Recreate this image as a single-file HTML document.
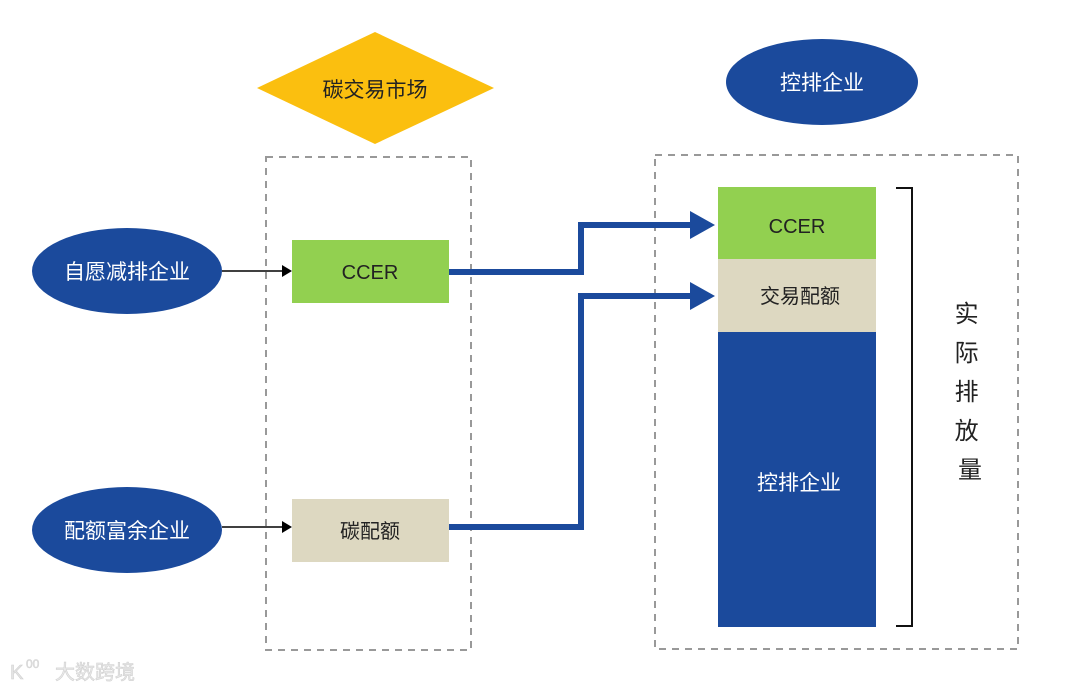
<!DOCTYPE html>
<html><head><meta charset="utf-8"><style>
html,body{margin:0;padding:0;background:#fff;}
svg{display:block;}
text{font-family:"Liberation Sans","Noto Sans CJK SC",sans-serif;}
</style></head><body>
<svg width="1070" height="691" viewBox="0 0 1070 691" xmlns="http://www.w3.org/2000/svg">
<rect width="1070" height="691" fill="#fff"/>
<!-- diamond -->
<polygon points="375,32 494,88 375,144 257,88" fill="#fbbf0f"/>
<text x="375" y="97" font-size="21" text-anchor="middle" fill="#222">碳交易市场</text>
<!-- top ellipse -->
<ellipse cx="822" cy="82" rx="96" ry="43" fill="#1b4a9c"/>
<text x="822" y="90" font-size="21" text-anchor="middle" fill="#fff">控排企业</text>
<!-- dashed boxes -->
<rect x="266" y="157" width="205" height="493" fill="none" stroke="#999" stroke-width="2" stroke-dasharray="7,6"/>
<rect x="655" y="155" width="363" height="494" fill="none" stroke="#999" stroke-width="2" stroke-dasharray="7,6"/>
<!-- left ellipses -->
<ellipse cx="127" cy="271" rx="95" ry="43" fill="#1b4a9c"/>
<text x="127" y="279" font-size="21" text-anchor="middle" fill="#fff">自愿减排企业</text>
<ellipse cx="127" cy="530" rx="95" ry="43" fill="#1b4a9c"/>
<text x="127" y="538" font-size="21" text-anchor="middle" fill="#fff">配额富余企业</text>
<!-- small arrows -->
<line x1="222" y1="271" x2="284" y2="271" stroke="#000" stroke-width="1.5"/>
<polygon points="292,271 282,265 282,277" fill="#000"/>
<line x1="222" y1="527" x2="284" y2="527" stroke="#000" stroke-width="1.5"/>
<polygon points="292,527 282,521 282,533" fill="#000"/>
<!-- left boxes -->
<rect x="292" y="240" width="157" height="63" fill="#92d050"/>
<text x="370" y="279" font-size="20" text-anchor="middle" fill="#222">CCER</text>
<rect x="292" y="499" width="157" height="63" fill="#ddd8c1"/>
<text x="370" y="538" font-size="20" text-anchor="middle" fill="#222">碳配额</text>
<!-- blue connectors -->
<polyline points="449,272 581,272 581,225 692,225" fill="none" stroke="#1b4a9c" stroke-width="6"/>
<polygon points="715,225 690,211 690,239" fill="#1b4a9c"/>
<polyline points="449,527 581,527 581,296 692,296" fill="none" stroke="#1b4a9c" stroke-width="6"/>
<polygon points="715,296 690,282 690,310" fill="#1b4a9c"/>
<!-- stacked column -->
<rect x="718" y="187" width="158" height="72" fill="#92d050"/>
<text x="797" y="233" font-size="20" text-anchor="middle" fill="#222">CCER</text>
<rect x="718" y="259" width="158" height="73" fill="#ddd8c1"/>
<text x="800" y="303" font-size="20" text-anchor="middle" fill="#222">交易配额</text>
<rect x="718" y="332" width="158" height="295" fill="#1b4a9c"/>
<text x="799" y="490" font-size="21" text-anchor="middle" fill="#fff">控排企业</text>
<!-- bracket -->
<polyline points="896,188 912,188 912,626 896,626" fill="none" stroke="#111" stroke-width="2"/>
<text font-size="24" fill="#222" text-anchor="middle">
<tspan x="970" y="322">实</tspan>
<tspan x="970" y="361">际</tspan>
<tspan x="970" y="400">排</tspan>
<tspan x="970" y="439">放</tspan>
<tspan x="970" y="478">量</tspan>
</text>
<!-- watermark -->
<text x="10" y="679" font-size="20" fill="#e4e4e4" stroke="#d0d0d0" stroke-width="0.6">K</text>
<text x="26" y="668" font-size="12" fill="#e4e4e4" stroke="#d0d0d0" stroke-width="0.5">00</text>
<text x="55" y="679" font-size="20" fill="#eaeaea" stroke="#d0d0d0" stroke-width="0.6">大数跨境</text>
</svg>
</body></html>
